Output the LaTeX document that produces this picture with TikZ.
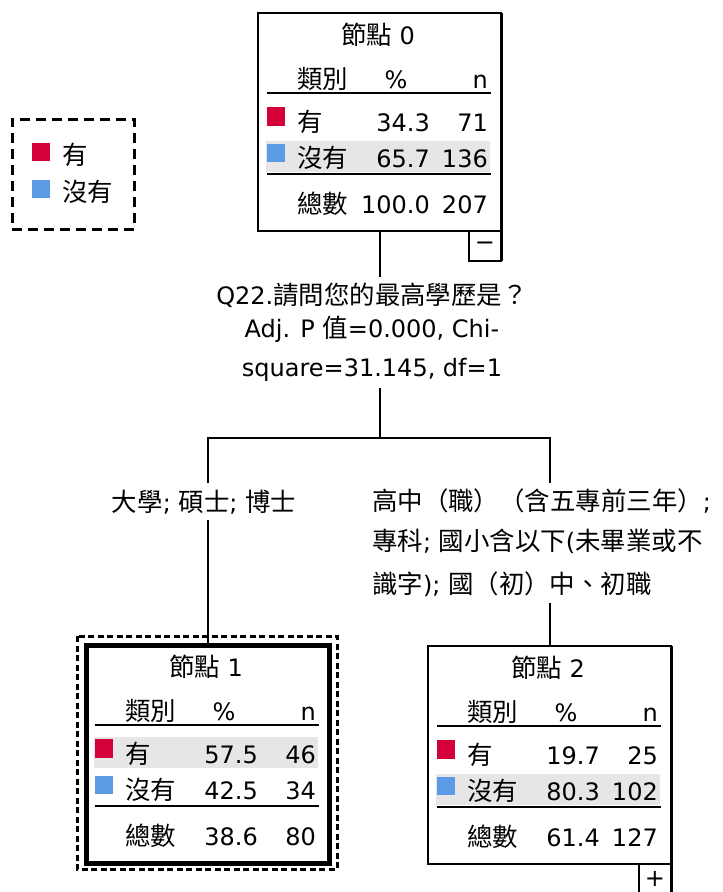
\documentclass[tikz,border=0pt]{standalone}
\usepackage{fontspec}
\setmainfont{DejaVu Sans}
\newfontfamily\zhfont[Scale=1.06]{Noto Sans CJK TC}
\newcommand{\zh}[1]{{\zhfont #1}}
\usetikzlibrary{positioning, calc}
\definecolor{Yes}{HTML}{D4003A}
\definecolor{No}{HTML}{5B9BE6}
\definecolor{Band}{HTML}{E6E6E6}
\tikzset{
    treebox/.style={draw, line width=1.3pt, minimum width=243, minimum height=218, inner sep=0pt, outer sep=0pt},
    selbox/.style={treebox, line width=5pt},
    cell/.style={inner sep=0pt, font=\fontsize{24}{29}\selectfont},
    rule/.style={line width=1.3pt},
    link/.style={line width=1.4pt},
    branchtext/.style={inner xsep=2pt, inner ysep=6pt, font=\fontsize{24}{29}\selectfont},
    togglebox/.style={draw, line width=1.3pt, minimum width=32, minimum height=30, inner sep=0pt, outer sep=0pt, font=\fontsize{24}{29}\selectfont},
    legendframe/.style={draw, line width=3pt, dash pattern=on 10pt off 6pt},
    selframe/.style={line width=3pt, dash pattern=on 6pt off 3.5pt},
}
\begin{document}
\begin{tikzpicture}[x=1pt, y=-1pt]
    \useasboundingbox (0,0) rectangle (723,892);

    % Legenda
    \node[legendframe, minimum width=122, minimum height=110] (legend) at (73,174) {};
    \fill[Yes] (32,143) rectangle (50,161);
    \node[cell, anchor=base west] (leg-yes) at (62,164) {\zh{有}};
    \fill[No] (32,180) rectangle (50,198);
    \node[cell, anchor=base west] (leg-no) at (62,201) {\zh{沒有}};

    % Nodi dell'albero
    \foreach \nm/\sty/\L/\T/\num/\brow/\pa/\na/\pb/\nb/\pt/\nt in {
        n0/treebox/258/13/0/154/34.3/71/65.7/136/100.0/207,
        n1/selbox/86/645/1/118/57.5/46/42.5/34/38.6/80,
        n2/treebox/428/646/2/154/19.7/25/80.3/102/61.4/127}{
        \node[\sty, anchor=north west] (\nm) at (\L,\T) {};
        \fill[Band] (\L+8,\T+\brow-26) rectangle (\L+232,\T+\brow+5);
        \node[cell, anchor=base] (\nm-title) at (\L+120,\T+31) {\zh{節點} \num};
        \node[cell, anchor=base west] (\nm-cat) at (\L+39,\T+75) {\zh{類別}};
        \node[cell, anchor=base] (\nm-pcth) at (\L+138,\T+75) {\%};
        \node[cell, anchor=base east] (\nm-nh) at (\L+230,\T+75) {n};
        \draw[rule] (\L+9,\T+80) -- (\L+233,\T+80);
        \fill[Yes] (\L+9,\T+118-24) rectangle (\L+27,\T+118-5);
        \node[cell, anchor=base west] (\nm-ya) at (\L+39,\T+118) {\zh{有}};
        \node[cell, anchor=base east] (\nm-yp) at (\L+172,\T+118) {\pa};
        \node[cell, anchor=base east] (\nm-yn) at (\L+230,\T+118) {\na};
        \fill[No] (\L+9,\T+154-23) rectangle (\L+27,\T+154-5);
        \node[cell, anchor=base west] (\nm-na) at (\L+39,\T+154) {\zh{沒有}};
        \node[cell, anchor=base east] (\nm-np) at (\L+172,\T+154) {\pb};
        \node[cell, anchor=base east] (\nm-nn) at (\L+230,\T+154) {\nb};
        \draw[rule] (\L+9,\T+161) -- (\L+233,\T+161);
        \node[cell, anchor=base west] (\nm-tot) at (\L+39,\T+200) {\zh{總數}};
        \node[cell, anchor=base east] (\nm-tp) at (\L+172,\T+200) {\pt};
        \node[cell, anchor=base east] (\nm-tn) at (\L+230,\T+200) {\nt};
    }

    % Bordi destri spessi e pulsanti
    \draw[line width=3pt] (n0.north east) -- (n0.south east);
    \draw[line width=3pt] (n2.north east) -- (n2.south east);
    \node[togglebox, anchor=north east] (n0-tog) at (n0.south east) {−};
    \node[togglebox, anchor=north east] (n2-tog) at (n2.south east) {+};
    \draw[line width=3pt] (n0-tog.north east) -- (n0-tog.south east);
    \draw[line width=3pt] (n2-tog.north east) -- (n2-tog.south east);

    % Nodo selezionato
    \draw[selframe] ([shift={(-9,-9)}]n1.north west) rectangle ([shift={(8,6)}]n1.south east);

    % Testi dei rami
    \node[branchtext, align=center, anchor=north, font=\fontsize{24}{33}\selectfont] (q) at (372,277)
        {Q22.\zh{請問您的最高學歷是？}\\Adj. P \zh{值}=0.000, Chi-\\[6pt]square=31.145, df=1};
    \node[branchtext, anchor=base] (lab1) at (204,511) {\zh{大學}; \zh{碩士}; \zh{博士}};
    \node[branchtext, align=left, anchor=north west, font=\fontsize{24}{40}\selectfont] (lab2) at (370,483)
        {\zh{高中（職）（含五專前三年）};\\\zh{專科}; \zh{國小含以下}(\zh{未畢業或不}\\[3pt]\zh{識字}); \zh{國（初）中、初職}};

    % Connettori
    \coordinate (split) at (380,438);
    \coordinate (lb) at (208,438);
    \coordinate (rb) at (550,438);
    \draw[link] (split |- n0.south) -- (split |- q.north);
    \draw[link] (split |- q.south) -- (split);
    \draw[link] (lb |- lab1.north) -- (lb) -- (rb) -- (rb |- lab2.north);
    \draw[link] (lb |- lab1.south) -- (lb |- n1.north);
    \draw[link] (rb |- lab2.south) -- (rb |- n2.north);
\end{tikzpicture}
\end{document}
